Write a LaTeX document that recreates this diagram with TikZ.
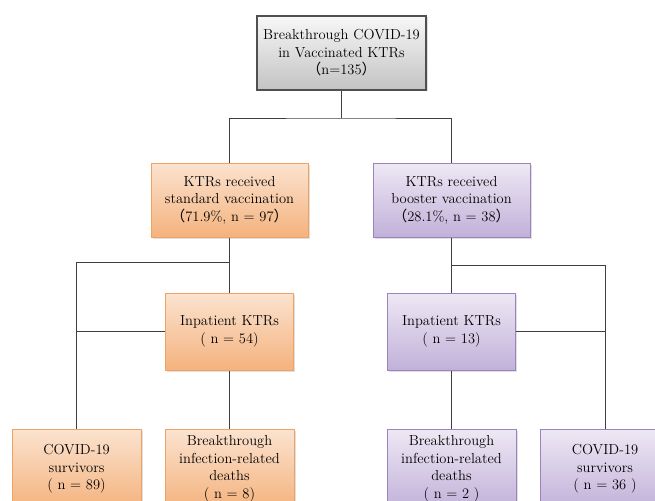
\documentclass[tikz,border=0pt]{standalone}
\usepackage{fontspec}
\newfontfamily\cjk{Noto Sans CJK SC}
\usetikzlibrary{shadows}
\definecolor{connc}{HTML}{3F3F3F}
\definecolor{orTop}{HTML}{FBE3CF}
\definecolor{orBot}{HTML}{F4B27E}
\definecolor{orEdge}{HTML}{EFA261}
\definecolor{puTop}{HTML}{EEE8F4}
\definecolor{puBot}{HTML}{C1B1D9}
\definecolor{puEdge}{HTML}{9A84BF}
\definecolor{grTop}{HTML}{F7F7F7}
\definecolor{grBot}{HTML}{C3C3C3}
\definecolor{grEdge}{HTML}{505050}
\newcommand{\lp}{\hspace*{0.45em}{\cjk （}}
\newcommand{\rp}{{\cjk ）}\hspace*{0.45em}}
\tikzset{
  box/.style={line width=1pt, align=center, inner sep=0pt,
    font=\fontsize{14.5}{17.5}\selectfont,
    drop shadow={shadow xshift=1.5pt, shadow yshift=-1.5pt, opacity=0.25}},
  orbox/.style={box, draw=orEdge, top color=orTop, bottom color=orBot},
  pubox/.style={box, draw=puEdge, top color=puTop, bottom color=puBot},
  grbox/.style={box, draw=grEdge, line width=1.2pt, top color=grTop, bottom color=grBot},
  midbox/.style={minimum width=157pt, minimum height=74pt},
  smallbox/.style={minimum width=128pt, minimum height=77pt},
  lowbox/.style={minimum width=129pt, minimum height=80pt},
  conn/.style={draw=connc, line width=1pt}
}
\begin{document}
\begin{tikzpicture}[x=1pt,y=-1pt]
\path[use as bounding box, clip] (0,0) rectangle (655,500);
\fill[white] (0,0) rectangle (655,500);

\node[grbox, minimum width=169pt, minimum height=74pt] (top) at (341.5,53)
  {Breakthrough COVID-19\\in Vaccinated KTRs\\\lp n=135\rp};

\node[orbox, midbox] (std) at (229.5,200)
  {KTRs received\\standard vaccination\\\lp 71.9\%, n = 97\rp};
\node[pubox, midbox] (boo) at (451.5,200)
  {KTRs received\\booster vaccination\\\lp 28.1\%, n = 38\rp};

\node[orbox, smallbox] (inpL) at (229.5,331.5) {Inpatient KTRs\\( n = 54)};
\node[pubox, smallbox] (inpR) at (451.5,331.5) {Inpatient KTRs\\( n = 13)};

\node[orbox, lowbox] (survL) at (76.5,469) {COVID-19\\survivors\\( n = 89)};
\node[orbox, lowbox] (deathL) at (229.5,469) {Breakthrough\\infection-related\\deaths\\( n = 8)};
\node[pubox, lowbox] (deathR) at (451.5,469) {Breakthrough\\infection-related\\deaths\\( n = 2 )};
\node[pubox, lowbox] (survR) at (605,469) {COVID-19\\survivors\\( n = 36 )};

\coordinate (fork) at (341.5,118);
\coordinate (forkL) at (229.5,262);
\coordinate (forkR) at (451.5,265);

\draw[conn] (top.south) -- (fork);
\draw[conn] (std.north) |- (fork) -| (boo.north);

\draw[conn] (std.south) -- (inpL.north);
\draw[conn] (forkL) -| (survL.north);
\draw[conn] (inpL.west) -- (survL.north |- inpL.west);
\draw[conn] (inpL.south) -- (deathL.north);

\draw[conn] (boo.south) -- (inpR.north);
\draw[conn] (forkR) -| (survR.north);
\draw[conn] (inpR.east) -- (survR.north |- inpR.east);
\draw[conn] (inpR.south) -- (deathR.north);
\end{tikzpicture}
\end{document}
